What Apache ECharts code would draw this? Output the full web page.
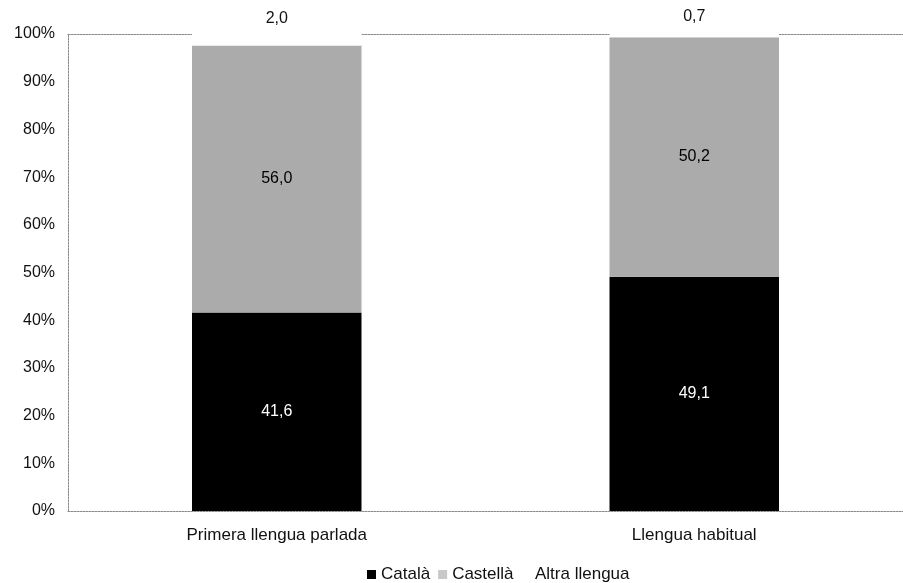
<!DOCTYPE html>
<html>
<head>
<meta charset="utf-8">
<script src="https://cdn.jsdelivr.net/npm/echarts@6/dist/echarts.min.js"></script>
<style>
  html, body { margin: 0; padding: 0; background: #fff; }
  #chart { width: 903px; height: 583px; }
</style>
</head>
<body>
<div id="chart"></div>
<script>
// Categories and percentage shares per language
const categories = ['Primera llengua parlada', 'Llengua habitual'];
const catala = [41.6, 49.1];
const castella = [56.0, 50.2];
const altra = [2.0, 0.7];
const yTicks = [0, 10, 20, 30, 40, 50, 60, 70, 80, 90, 100];

const fmt = v => v.toFixed(1).replace('.', ',');
const FONT = 'Liberation Sans, Arial, sans-serif';
const lineStyle = { color: '#8a8a8a', width: 1, type: [2, 1] };
const legendText = { fontSize: 17, color: '#111', fontFamily: FONT };

const chart = echarts.init(document.getElementById('chart'));
chart.setOption({
  backgroundColor: '#fff',
  animation: false,
  textStyle: { fontFamily: FONT },
  grid: { left: 68, right: 0, top: 34, bottom: 72 },
  legend: [{
    top: 561,
    left: 362,
    itemWidth: 9,
    itemHeight: 9,
    itemGap: 8,
    textStyle: legendText,
    data: [
      { name: 'Català', icon: 'rect' },
      { name: 'Castellà', icon: 'rect', itemStyle: { color: '#c8c8c8' } }
    ]
  }, {
    top: 561,
    left: 516,
    itemWidth: 9,
    itemHeight: 9,
    textStyle: legendText,
    data: [{ name: 'Altra llengua', icon: 'rect' }]
  }],
  xAxis: [{
    type: 'category',
    data: categories,
    axisLine: { show: true, lineStyle: lineStyle },
    axisTick: { show: false },
    axisLabel: { fontSize: 17, color: '#111', margin: 16, fontFamily: FONT }
  }, {
    type: 'category',
    position: 'top',
    data: categories,
    axisLine: { show: true, lineStyle: lineStyle },
    axisTick: { show: false },
    axisLabel: { show: false }
  }],
  yAxis: {
    type: 'value',
    min: yTicks[0],
    max: yTicks[yTicks.length - 1],
    interval: 10,
    axisLine: { show: true, lineStyle: lineStyle },
    axisTick: { show: false },
    splitLine: { show: false },
    axisLabel: { fontSize: 16, color: '#111', margin: 13, formatter: v => v + '%', fontFamily: FONT }
  },
  series: [{
    name: 'Català',
    type: 'bar',
    stack: 'total',
    barWidth: '40.6%',
    data: catala,
    itemStyle: { color: '#000' },
    label: { show: true, position: 'inside', color: '#fff', fontSize: 16, formatter: p => fmt(p.value) }
  }, {
    name: 'Castellà',
    type: 'bar',
    stack: 'total',
    data: castella,
    itemStyle: { color: '#ababab' },
    label: { show: true, position: 'inside', color: '#000', fontSize: 16, formatter: p => fmt(p.value) }
  }, {
    name: 'Altra llengua',
    type: 'bar',
    stack: 'total',
    clip: false,
    data: altra,
    // white segment also masks the frame line just above it
    itemStyle: { color: '#fff', shadowColor: '#fff', shadowBlur: 0, shadowOffsetY: -4 },
    label: { show: true, position: 'top', distance: 9, color: '#111', fontSize: 16, formatter: p => fmt(p.value) }
  }]
});
</script>
</body>
</html>
